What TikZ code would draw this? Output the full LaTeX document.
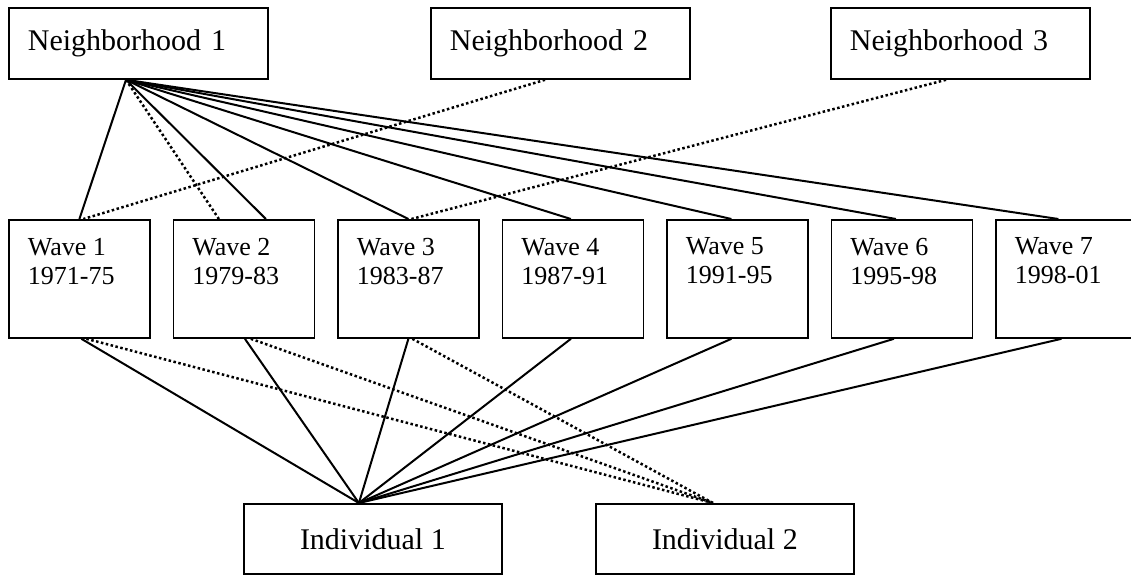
\documentclass[tikz,border=0pt]{standalone}
\usepackage{fontspec}
\setmainfont{Liberation Serif}
\usetikzlibrary{calc}

\newcommand{\wavetext}[2]{\parbox[c][118pt][t]{141pt}{\leftskip=19pt\vspace*{18pt}#1\par#2}}

\tikzset{
    box/.style={draw, line width=1.8pt, inner sep=0pt, anchor=north west},
    hoodbox/.style={box, minimum width=259pt, minimum height=71pt, text width=221pt,
        inner xsep=19pt, align=left, font=\fontsize{30}{36}\selectfont},
    wavebox/.style={box, minimum width=141pt, minimum height=118pt, font=\fontsize{26}{29}\selectfont},
    indbox/.style={box, minimum width=258pt, minimum height=70pt, font=\fontsize{30}{36}\selectfont},
    link/.style={line width=2pt},
    dotlink/.style={line width=2.5pt, dash pattern=on 2.5pt off 2.5pt}
}

\begin{document}
\begin{tikzpicture}[x=1pt, y=-1pt]
    \useasboundingbox (0,0) rectangle (1131,574);

    % top row
    \node[hoodbox] (N1) at (8,7) {Neighborhood 1};
    \node[hoodbox] (N2) at (430,7) {Neighborhood 2};
    \node[hoodbox] (N3) at (830,7) {Neighborhood 3};

    % waves
    \foreach \i/\yrs in {1/1971-75, 2/1979-83, 3/1983-87, 4/1987-91, 5/1991-95, 6/1995-98, 7/1998-01} {
        \node[wavebox] (W\i) at ({8+(\i-1)*164.5}, 219) {\wavetext{Wave \i}{\yrs}};
    }

    % individuals
    \node[indbox] (I1) at (243,503) {Individual 1};
    \node[indbox] (I2) at (595,503) {Individual 2};

    % attachment points
    \coordinate (n1) at ([xshift=118pt]N1.south west);
    \coordinate (n2) at ([xshift=115pt]N2.south west);
    \coordinate (n3) at ([xshift=116pt]N3.south west);
    \coordinate (i1) at ([xshift=-14pt]I1.north);
    \coordinate (i2) at ([xshift=-12pt]I2.north);

    % neighborhoods to waves
    \foreach \w/\dx in {1/0, 2/22, 3/0, 4/-2, 5/-6, 6/-6, 7/-8}
        \draw[link] (n1) -- ([xshift=\dx pt]W\w.north);
    \draw[dotlink] (n1) -- ([xshift=-25pt]W2.north);
    \draw[dotlink] (n2) -- ([xshift=4pt]W1.north);
    \draw[dotlink] (n3) -- ([xshift=3pt]W3.north);

    % waves to individuals
    \foreach \w/\dx in {1/2, 2/1, 3/0, 4/-2, 5/-6, 6/-8, 7/-5}
        \draw[link] ([xshift=\dx pt]W\w.south) -- (i1);
    \foreach \w/\dx in {1/7, 2/7, 3/4}
        \draw[dotlink] ([xshift=\dx pt]W\w.south) -- (i2);
\end{tikzpicture}
\end{document}
